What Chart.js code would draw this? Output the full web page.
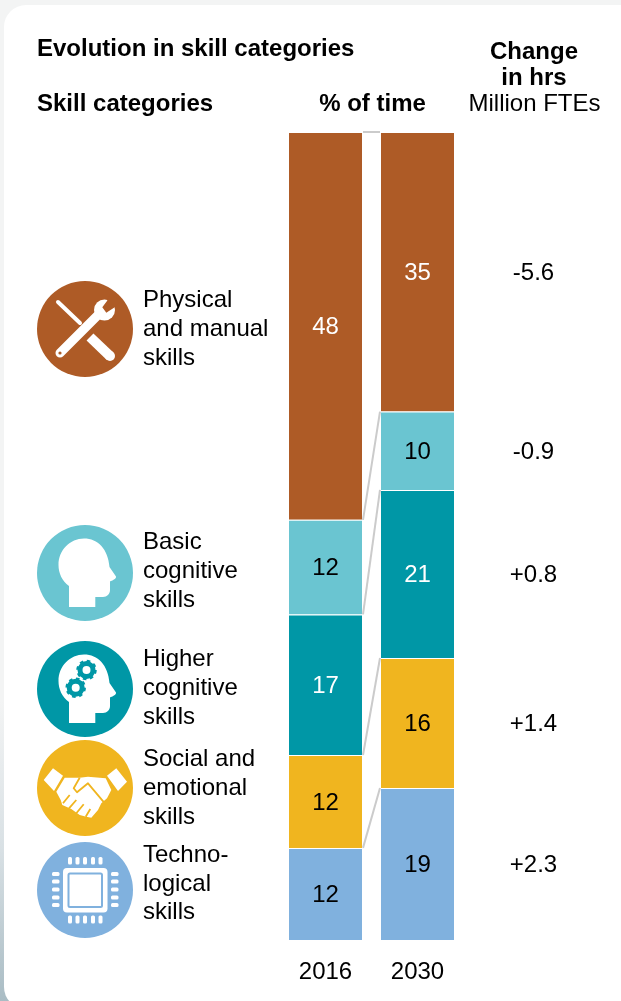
<!DOCTYPE html>
<html><head><meta charset="utf-8">
<script src="https://cdn.jsdelivr.net/npm/chart.js@4"></script>
<style>
html,body{margin:0;padding:0;width:621px;height:1001px;overflow:hidden;background:linear-gradient(180deg,#f3f4f4 0,#f3f4f4 70%,#d8e0e4 85%,#a9bcc4 100%);font-family:"Liberation Sans",Arial,sans-serif;color:#000}
#card{position:absolute;left:4px;top:5px;width:700px;height:1004px;background:#fff;border-radius:22px}
canvas{position:absolute;left:0;top:0}
.t{position:absolute;white-space:nowrap;font-size:24px;line-height:29px}
.b{font-weight:bold}
.c{transform:translateX(-50%);text-align:center}
svg{position:absolute;left:37px;width:96px;height:96px}
</style></head><body>
<div id="card"></div>
<canvas id="chart" width="621" height="1001"></canvas>
<div class="t b" style="left:37px;top:33px">Evolution in skill categories</div>
<div class="t b" style="left:37px;top:88px">Skill categories</div>
<div class="t b c" style="left:372.500px;top:88px">% of time</div>
<div class="t b c" style="left:534px;top:36px">Change</div>
<div class="t b c" style="left:534px;top:62px">in hrs</div>
<div class="t c" style="left:534.500px;top:88px">Million FTEs</div>
<div class="t" style="left:143px;top:284px">Physical<br>and manual<br>skills</div>
<div class="t" style="left:143px;top:526px">Basic<br>cognitive<br>skills</div>
<div class="t" style="left:143px;top:643px">Higher<br>cognitive<br>skills</div>
<div class="t" style="left:143px;top:743px">Social and<br>emotional<br>skills</div>
<div class="t" style="left:143px;top:840px;line-height:28.5px">Techno-<br>logical<br>skills</div>

<svg viewBox="0 0 96 96" style="top:281px"><circle cx="48" cy="48" r="48" fill="#AE5B26"/>
<path d="M21 21 L43 42" stroke="#fff" stroke-width="4" stroke-linecap="round"/>
<path d="M53 56 L73 75" stroke="#fff" stroke-width="10"/><circle cx="73" cy="75" r="5" fill="#fff"/>
<path d="M23 72 L62 33" stroke="#fff" stroke-width="9" stroke-linecap="round"/><circle cx="67.500" cy="29" r="10.500" fill="#fff"/>
<path d="M70 20 L73 13 L84 20 L77.700 26.300 L69.300 31.700 L65.300 26.300 Z" fill="#AE5B26"/><circle cx="23" cy="72" r="1.600" fill="#AE5B26"/></svg>

<svg viewBox="0 0 96 96" style="top:525px"><circle cx="48" cy="48" r="48" fill="#6AC5D1"/>
<path d="M32 82V61C25 56 21.500 48 21.500 40C21.500 25 33 13.500 47 13.500C61 13.500 71 24 72.500 42L79 51.500C79.500 54 75 55.500 73 56.500V65C73 69 70 72 66 72H58.300V82Z" fill="#fff"/></svg>

<svg viewBox="0 0 96 96" style="top:641px"><circle cx="48" cy="48" r="48" fill="#0097A6"/>
<path d="M32 82V61C25 56 21.500 48 21.500 40C21.500 25 33 13.500 47 13.500C61 13.500 71 24 72.500 42L79 51.500C79.500 54 75 55.500 73 56.500V65C73 69 70 72 66 72H58.300V82Z" fill="#fff"/>
<circle cx="49.500" cy="29" r="6.500" fill="none" stroke="#0097A6" stroke-width="5"/><circle cx="49.500" cy="29" r="9" fill="none" stroke="#0097A6" stroke-width="2.500" stroke-dasharray="3.500 3.570"/>
<circle cx="38.700" cy="46.700" r="6.500" fill="none" stroke="#0097A6" stroke-width="5"/><circle cx="38.700" cy="46.700" r="9" fill="none" stroke="#0097A6" stroke-width="2.500" stroke-dasharray="3.500 3.570"/></svg>

<svg viewBox="0 0 96 96" style="top:740px"><circle cx="48" cy="48" r="48" fill="#F0B51F"/>
<path d="M16 28.300L26 35.700L17 51L6.700 40Z M79.300 28.300L90 41.700L81 51L70 35.700Z" fill="#fff"/>
<path d="M19.300 51.700L27.700 37.700L42.700 37.700L51 36.700L68.700 38.300L74.300 50L70 58.300L64.300 63.300L61 70L54.300 77.700L49.300 76.700L42.700 75L34.300 69L25.300 65L23.700 60Z" fill="#fff"/>
<path d="M42.700 37.700L36.700 48.300L40 52.300L51 43.300L68.700 64.300" fill="none" stroke="#F0B51F" stroke-width="1.800" stroke-linejoin="round"/>
<path d="M32.700 55L26 63.300M39.300 60L32 68.300M46.700 64.300L39.300 73.300M53.300 69L48.700 76.700" stroke="#F0B51F" stroke-width="1.800" fill="none"/></svg>

<svg viewBox="0 0 96 96" style="top:842px"><circle cx="48" cy="48" r="48" fill="#80B1DE"/>
<rect x="26" y="26" width="44.500" height="44.500" rx="4" fill="#fff"/><rect x="31.500" y="31.500" width="33.500" height="33.500" rx="1.500" fill="#fff" stroke="#80B1DE" stroke-width="2"/>
<g fill="#fff"><rect x="31" y="15" width="4" height="7.500" rx="1.500"/><rect x="38.500" y="15" width="4" height="7.500" rx="1.500"/><rect x="46" y="15" width="4" height="7.500" rx="1.500"/><rect x="54" y="15" width="4" height="7.500" rx="1.500"/><rect x="61.500" y="15" width="4" height="7.500" rx="1.500"/>
<rect x="31" y="73.500" width="4" height="8" rx="1.500"/><rect x="38.500" y="73.500" width="4" height="8" rx="1.500"/><rect x="46" y="73.500" width="4" height="8" rx="1.500"/><rect x="54" y="73.500" width="4" height="8" rx="1.500"/><rect x="61.500" y="73.500" width="4" height="8" rx="1.500"/>
<rect x="15" y="30" width="7.500" height="4" rx="1.500"/><rect x="15" y="37.500" width="7.500" height="4" rx="1.500"/><rect x="15" y="45.500" width="7.500" height="4" rx="1.500"/><rect x="15" y="53.500" width="7.500" height="4" rx="1.500"/><rect x="15" y="61" width="7.500" height="4" rx="1.500"/>
<rect x="74" y="30" width="7.500" height="4" rx="1.500"/><rect x="74" y="37.500" width="7.500" height="4" rx="1.500"/><rect x="74" y="45.500" width="7.500" height="4" rx="1.500"/><rect x="74" y="53.500" width="7.500" height="4" rx="1.500"/><rect x="74" y="61" width="7.500" height="4" rx="1.500"/></g></svg>

<script>
const years = ["2016", "2030"];
const categories = ["Technological", "Social and emotional", "Higher cognitive", "Basic cognitive", "Physical and manual"];
const technological = [11.4, 18.8];
const socialEmotional = [11.5, 16.1];
const higherCognitive = [17.4, 20.8];
const basicCognitive = [11.7, 9.7];
const physicalManual = [48.0, 34.6];
const printedLabels = [[12, 19], [12, 16], [17, 21], [12, 10], [48, 35]];
const changeInHours = ["+2.3", "+1.4", "+0.8", "-0.9", "-5.6"];
const colors = ["#80B1DE", "#F0B51F", "#0097A6", "#6AC5D1", "#AE5B26"];
const labelColors = ["#000", "#000", "#fff", "#000", "#fff"];
const seriesValues = [technological, socialEmotional, higherCognitive, basicCognitive, physicalManual];

const overlay = {
  id: "overlay",
  afterDatasetsDraw(chart) {
    const ctx = chart.ctx, meta = chart.data.datasets.map((d, i) => chart.getDatasetMeta(i));
    ctx.save();
    ctx.strokeStyle = "#cbcbcb"; ctx.lineWidth = 2;
    meta.forEach((m, i) => {
      const a = m.data[0], b = m.data[1];
      ctx.beginPath();
      ctx.moveTo(a.x + a.width / 2, a.y);
      ctx.lineTo(b.x - b.width / 2, b.y);
      ctx.stroke();
    });
    ctx.font = '24px "Liberation Sans", Arial, sans-serif';
    ctx.textAlign = "center"; ctx.textBaseline = "middle";
    meta.forEach((m, i) => {
      ctx.fillStyle = labelColors[i];
      m.data.forEach((bar, j) => {
        ctx.fillText(String(printedLabels[i][j]), bar.x, (bar.y + bar.base) / 2 + 1.5);
      });
      const b = m.data[1];
      ctx.fillStyle = "#000";
      ctx.fillText(changeInHours[i], 533.5, (b.y + b.base) / 2 + 1.5);
    });
    ctx.restore();
  }
};

new Chart(document.getElementById("chart"), {
  type: "bar",
  data: {
    labels: years,
    datasets: seriesValues.map((v, i) => ({
      label: categories[i], data: v, backgroundColor: colors[i],
      borderColor: "rgba(255,255,255,0.85)", borderWidth: 1,
      categoryPercentage: 1, barPercentage: 75 / 92
    }))
  },
  options: {
    responsive: false, animation: false, events: [],
    layout: { padding: { left: 279.5, right: 157.5, top: 132, bottom: 0 } },
    plugins: { legend: { display: false }, tooltip: { enabled: false }, title: { display: false } },
    scales: {
      x: { stacked: true, grid: { display: false }, border: { display: false },
           afterFit(scale) { scale.height = 61; },
           ticks: { color: "#000", padding: 10, maxRotation: 0, font: { size: 24, family: '"Liberation Sans", Arial, sans-serif' } } },
      y: { stacked: true, display: false, min: 0, max: 100 }
    }
  },
  plugins: [overlay]
});
</script>
</body></html>
